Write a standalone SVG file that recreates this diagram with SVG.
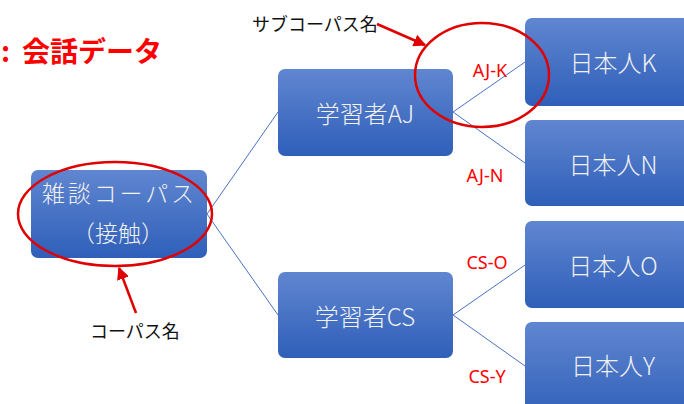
<svg xmlns="http://www.w3.org/2000/svg" width="684" height="404" viewBox="0 0 684 404">
<defs>
<linearGradient id="bg" x1="0" y1="0" x2="0" y2="1">
<stop offset="0" stop-color="#6086d0"/>
<stop offset="1" stop-color="#2f5fb9"/>
</linearGradient>
<marker id="ah" viewBox="0 0 10 10" refX="9" refY="5" markerWidth="5" markerHeight="5" orient="auto" markerUnits="strokeWidth">
<path d="M0,0 L10,5 L0,10 z" fill="#e00000"/>
</marker>
<style>
.box{fill:url(#bg);}
.bt{fill:#f2f2f2;font-family:"Noto Sans CJK JP","Noto Sans",sans-serif;font-weight:300;text-anchor:middle;dominant-baseline:central;}
.lbl{fill:#ff0000;font-family:"Noto Sans","Liberation Sans",sans-serif;font-size:18px;text-anchor:middle;dominant-baseline:central;}
.note{fill:#111;font-family:"Noto Sans CJK JP",sans-serif;font-size:18px;dominant-baseline:central;}
.conn{stroke:#4a72c0;stroke-width:1;fill:none;}
.red{stroke:#e00000;stroke-width:2.5;fill:none;}
</style>
</defs>
<text x="1" y="50" fill="#ff0000" font-family="Noto Sans CJK JP,sans-serif" font-weight="bold" font-size="28" dominant-baseline="central">:<tspan x="22">会話データ</tspan></text>
<g id="connectors">
<line class="conn" x1="207" y1="214" x2="278" y2="112"/>
<line class="conn" x1="207" y1="214" x2="278" y2="315"/>
<line class="conn" x1="453" y1="112" x2="525" y2="62"/>
<line class="conn" x1="453" y1="112" x2="525" y2="163"/>
<line class="conn" x1="453" y1="315" x2="525" y2="265"/>
<line class="conn" x1="453" y1="315" x2="525" y2="366"/>
</g>
<g id="root">
<rect class="box" x="31" y="170" width="176" height="88" rx="7"/>
<text class="bt" x="118" y="192" font-size="23" textLength="152">雑談コーパス</text>
<text class="bt" x="118" y="232" font-size="23">（接触）</text>
</g>
<g id="aj">
<rect class="box" x="278" y="69" width="175" height="87" rx="7"/>
<text class="bt" x="365" y="112" font-size="24">学習者AJ</text>
</g>
<g id="cs">
<rect class="box" x="278" y="272" width="175" height="86" rx="7"/>
<text class="bt" x="365" y="315" font-size="24">学習者CS</text>
</g>
<g id="k">
<rect class="box" x="525" y="18" width="175" height="88" rx="7"/>
<text class="bt" x="613" y="61" font-size="24">日本人K</text>
</g>
<g id="n">
<rect class="box" x="525" y="120" width="175" height="86" rx="7"/>
<text class="bt" x="613" y="163" font-size="24">日本人N</text>
</g>
<g id="o">
<rect class="box" x="525" y="221" width="175" height="87" rx="7"/>
<text class="bt" x="613" y="264" font-size="24">日本人O</text>
</g>
<g id="y">
<rect class="box" x="525" y="322" width="175" height="100" rx="7"/>
<text class="bt" x="613" y="364" font-size="24">日本人Y</text>
</g>
<g id="labels">
<text class="lbl" x="490" y="70">AJ-K</text>
<text class="lbl" x="485" y="175">AJ-N</text>
<text class="lbl" x="487" y="262">CS-O</text>
<text class="lbl" x="487" y="376">CS-Y</text>
</g>
<g id="annotations">
<ellipse class="red" cx="115" cy="214" rx="97" ry="52"/>
<ellipse class="red" cx="482" cy="75" rx="67" ry="52"/>
<line class="red" x1="136" y1="313" x2="119" y2="268" marker-end="url(#ah)"/>
<line class="red" x1="377" y1="24" x2="425" y2="45" marker-end="url(#ah)"/>
<text class="note" x="90" y="330">コーパス名</text>
<text class="note" x="252" y="23">サブコーパス名</text>
</g>
</svg>
